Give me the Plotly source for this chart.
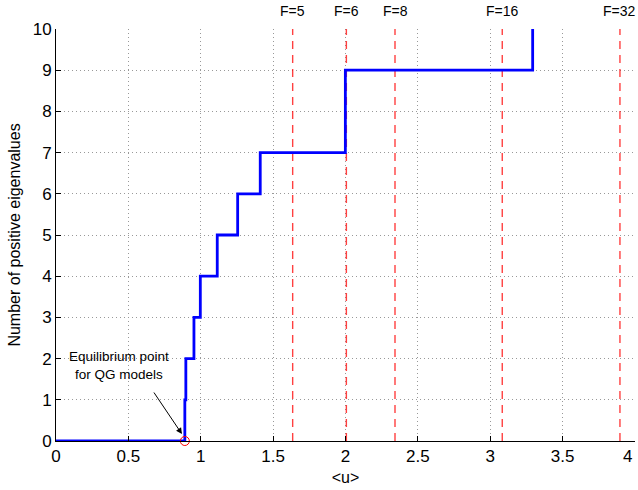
import plotly.graph_objects as go

# Step data: positions where eigenvalue count changes, and counts
step_x = [0, 0.89, 0.897, 0.953, 0.997, 1.114, 1.255, 1.411, 1.999, 3.293]
step_count = [0, 1, 2, 3, 4, 5, 6, 7, 9, 10]

# Forcing reference lines
f_labels = ["F=5", "F=6", "F=8", "F=16", "F=32"]
f_x = [1.635, 2.006, 2.342, 3.083, 3.896]

# Equilibrium point
eq_x = [0.89]
eq_y = [0]

# x-axis ticks
x_ticks = [0, 0.5, 1, 1.5, 2, 2.5, 3, 3.5, 4]
x_tick_text = ["0", "0.5", "1", "1.5", "2", "2.5", "3", "3.5", "4"]

font_family = "Liberation Sans, Arial, Helvetica, sans-serif"

fig = go.Figure()

for xv in f_x:
    fig.add_trace(go.Scatter(x=[xv, xv], y=[0, 10], mode="lines",
                             line=dict(color="rgba(255,0,0,0.75)", width=1.4, dash="8px,6px"),
                             showlegend=False, hoverinfo="skip"))

fig.add_trace(go.Scatter(x=step_x, y=step_count, mode="lines", line_shape="hv",
                         line=dict(color="#0000ff", width=2.8), showlegend=False))

fig.add_trace(go.Scatter(x=eq_x, y=eq_y, mode="markers",
                         marker=dict(symbol="circle-open", size=9, color="red", line=dict(width=1)),
                         showlegend=False, cliponaxis=False))

for lab, xv in zip(f_labels, f_x):
    fig.add_annotation(x=xv, y=1, xref="x", yref="paper", text=lab, showarrow=False,
                       yanchor="bottom", yshift=8, font=dict(size=14, color="black", family=font_family))

fig.add_annotation(x=0.434, y=1.84, xref="x", yref="y", text="Equilibrium point<br>for QG models",
                   showarrow=False, font=dict(size=13.5, color="black", family=font_family))
fig.add_annotation(x=0.87, y=0.17, xref="x", yref="y", text="", showarrow=True,
                   ax=-29, ay=-43, arrowhead=2, arrowsize=1.2, arrowwidth=1, arrowcolor="black")

# last x tick label placed inside the page edge (as in the reference)
fig.add_annotation(x=x_ticks[-1], y=0, xref="x", yref="paper", text=x_tick_text[-1],
                   showarrow=False, xanchor="right", yanchor="top", xshift=-1, yshift=-4,
                   font=dict(size=17, color="black", family=font_family))
shown_text = x_tick_text[:-1] + [""]

fig.update_layout(
    width=638, height=490,
    margin=dict(l=56, r=3, t=29, b=49, autoexpand=False),
    plot_bgcolor="white", paper_bgcolor="white",
    font=dict(family=font_family, size=16, color="black"),
    xaxis=dict(range=[0, 4], tickvals=x_ticks, ticktext=shown_text, showgrid=True, gridcolor="#999",
               griddash="1px,3px", gridwidth=1, zeroline=False, showline=True, linecolor="black",
               linewidth=1, ticks="inside", ticklen=5, tickcolor="black", automargin=False,
               tickfont=dict(size=17),
               title=dict(text="&lt;u&gt;", font=dict(size=16), standoff=6)),
    yaxis=dict(range=[0, 10], dtick=1, showgrid=True, gridcolor="#999", griddash="1px,3px",
               gridwidth=1, zeroline=False, showline=True, linecolor="black", linewidth=1,
               ticks="inside", ticklen=5, tickcolor="black", tickfont=dict(size=17), automargin=False,
               title=dict(text="Number of positive eigenvalues", font=dict(size=16), standoff=8)),
)

fig.write_html("out.html")
